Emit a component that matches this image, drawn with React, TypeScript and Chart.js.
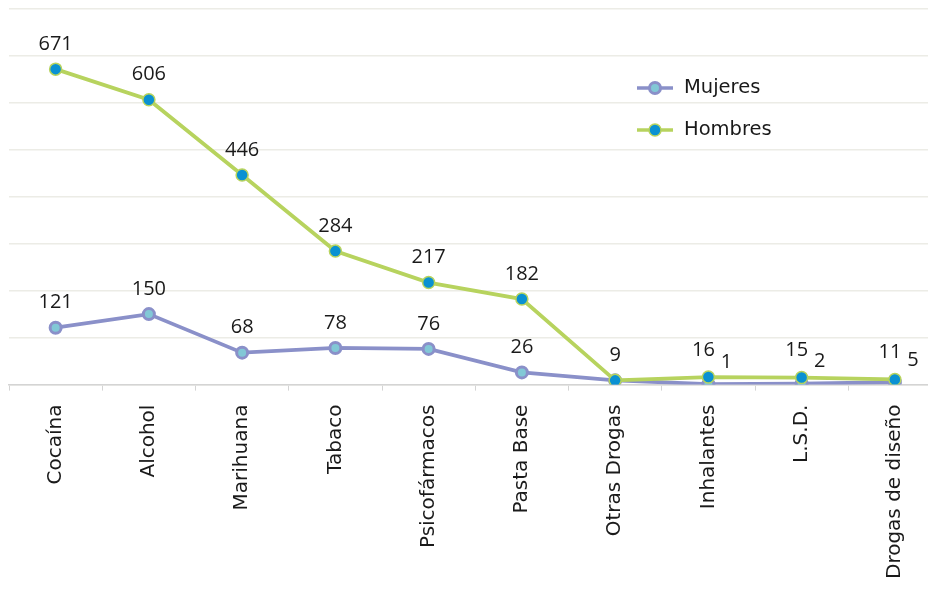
import React, { useEffect, useRef } from "react";
import { Chart, registerables } from "chart.js";

Chart.register(...registerables);

const categories = [
  "Cocaína",
  "Alcohol",
  "Marihuana",
  "Tabaco",
  "Psicofármacos",
  "Pasta Base",
  "Otras Drogas",
  "Inhalantes",
  "L.S.D.",
  "Drogas de diseño",
];
const mujeres = [121, 150, 68, 78, 76, 26, 9, 1, 2, 5];
const hombres = [671, 606, 446, 284, 217, 182, 9, 16, 15, 11];

const LABEL_FONT = "'Open Sans', 'Noto Sans', sans-serif";
const TEXT_FONT = "'DejaVu Sans', sans-serif";

const labelPlugin = {
  id: "valueLabels",
  afterDatasetsDraw(chart: any) {
    const ctx = chart.ctx;
    ctx.save();
    ctx.font = `20px ${LABEL_FONT}`;
    ctx.fillStyle = "#1a1a1a";
    ctx.textAlign = "center";
    ctx.textBaseline = "middle";
    const hMeta = chart.getDatasetMeta(0);
    const mMeta = chart.getDatasetMeta(1);
    hMeta.data.forEach((pt: any, i: number) => {
      const close = Math.abs(hombres[i] - mujeres[i]) < 30 && hombres[i] !== mujeres[i];
      ctx.fillText(String(hombres[i]), pt.x - (close ? 5 : 0), pt.y - (close ? 27 : 25));
    });
    mMeta.data.forEach((pt: any, i: number) => {
      const m = mujeres[i];
      const h = hombres[i];
      if (m === h) return;
      if (Math.abs(h - m) < 30) {
        ctx.fillText(String(m), pt.x + 18, pt.y - 22);
      } else {
        ctx.fillText(String(m), pt.x, pt.y - 25);
      }
    });
    ctx.restore();
  },
};

const legendPlugin = {
  id: "customLegend",
  afterDraw(chart: any) {
    const ctx = chart.ctx;
    ctx.save();
    const items = [
      { label: "Mujeres", ds: chart.data.datasets[1], y: 88 },
      { label: "Hombres", ds: chart.data.datasets[0], y: 130 },
    ];
    items.forEach((it) => {
      ctx.strokeStyle = it.ds.borderColor;
      ctx.lineWidth = 3.5;
      ctx.beginPath();
      ctx.moveTo(637, it.y);
      ctx.lineTo(673, it.y);
      ctx.stroke();
      ctx.beginPath();
      ctx.arc(655, it.y, it.ds.pointRadius, 0, Math.PI * 2);
      ctx.fillStyle = it.ds.pointBackgroundColor;
      ctx.fill();
      ctx.lineWidth = it.ds.pointBorderWidth;
      ctx.strokeStyle = it.ds.pointBorderColor;
      ctx.stroke();
      ctx.fillStyle = "#1a1a1a";
      ctx.font = `19.5px ${TEXT_FONT}`;
      ctx.textAlign = "left";
      ctx.textBaseline = "middle";
      ctx.fillText(it.label, 684, it.y);
    });
    ctx.restore();
  },
};

export default function App() {
  const ref = useRef<HTMLCanvasElement>(null);
  useEffect(() => {
    if (!ref.current) return;
    const chart = new Chart(ref.current, {
      type: "line",
      data: {
        labels: categories,
        datasets: [
          {
            label: "Hombres",
            data: hombres,
            borderColor: "#b7d35e",
            borderWidth: 3.8,
            pointRadius: 6,
            pointBackgroundColor: "#0a91d2",
            pointBorderColor: "#b7d35e",
            pointBorderWidth: 1.5,
            tension: 0,
            order: 0,
          },
          {
            label: "Mujeres",
            data: mujeres,
            borderColor: "#8a90c9",
            borderWidth: 3.8,
            pointRadius: 5.5,
            pointBackgroundColor: "#82c8d6",
            pointBorderColor: "#8a90c9",
            pointBorderWidth: 3,
            tension: 0,
            order: 1,
          },
        ],
      },
      options: {
        responsive: false,
        animation: false,
        layout: { padding: { left: 9, right: 0, top: 8, bottom: 2 } },
        plugins: {
          legend: { display: false },
          tooltip: { enabled: false },
        },
        scales: {
          x: {
            offset: true,
            grid: {
              offset: true,
              drawOnChartArea: false,
              drawTicks: true,
              tickLength: 6,
              color: "#d4d4d4",
            },
            border: { display: true, color: "#d4d4d4", width: 1.5 },
            ticks: {
              maxRotation: 90,
              minRotation: 90,
              autoSkip: false,
              padding: 14,
              color: "#1a1a1a",
              font: { family: TEXT_FONT, size: 20 },
            },
          },
          y: {
            min: 0,
            max: 800,
            ticks: { display: false, stepSize: 100 },
            grid: { color: "#ecece6", lineWidth: 1.5, drawTicks: false },
            border: { display: false },
          },
        },
      },
      plugins: [labelPlugin, legendPlugin],
    });
    return () => chart.destroy();
  }, []);
  return (
    <div
      style={{
        position: "fixed",
        left: 0,
        top: 0,
        width: 928,
        height: 595,
        overflow: "hidden",
        background: "#fff",
      }}
    >
      <canvas ref={ref} width={950} height={595} style={{ display: "block" }} />
    </div>
  );
}
